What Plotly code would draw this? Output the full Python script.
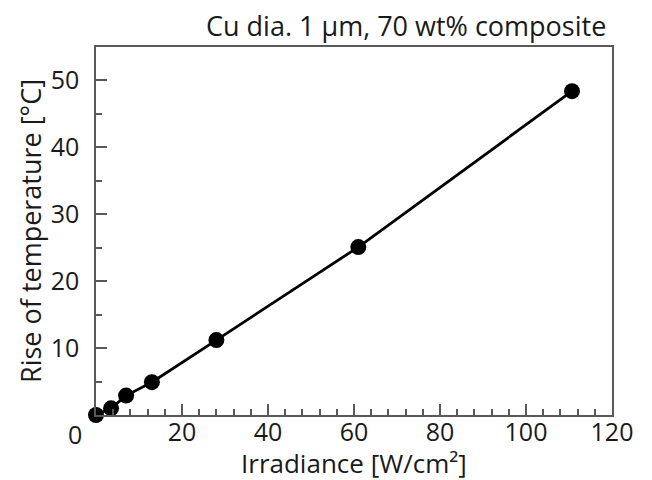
import plotly.graph_objects as go

irradiance = [0, 3.5, 7.0, 13.0, 28.0, 61.0, 110.7]
temp_rise = [0, 1.0, 2.9, 4.9, 11.2, 25.1, 48.4]
x_ticks = [0, 20, 40, 60, 80, 100, 120]
y_ticks = [10, 20, 30, 40, 50]

FONT = "'Open Sans', sans-serif"
AXC = "#595959"
FS = 25      # tick labels
FT = 27      # titles

fig = go.Figure()
fig.add_trace(go.Scatter(
    x=irradiance, y=temp_rise, mode="lines+markers",
    line=dict(color="black", width=2.8),
    marker=dict(color="black", size=16),
    showlegend=False, cliponaxis=False,
))

fig.update_layout(
    width=652, height=480,
    margin=dict(l=96, r=40, t=47, b=65, autoexpand=False),
    paper_bgcolor="white", plot_bgcolor="white",
    font=dict(family=FONT, size=FS, color="#1a1a1a"),
    xaxis=dict(
        range=[0, 120], tickvals=x_ticks,
        ticktext=["" if v == 0 else str(v) for v in x_ticks],
        ticks="inside", ticklen=11, tickwidth=1.5, tickcolor=AXC,
        minor=dict(dtick=4, ticks="inside", ticklen=6, tickwidth=1.5, tickcolor=AXC),
        showline=True, linecolor=AXC, linewidth=1.5, mirror=True,
        showgrid=False, zeroline=False, automargin=False,
        tickfont=dict(size=FS), ticklabelstandoff=-6,
    ),
    yaxis=dict(
        range=[0, 55], tickvals=y_ticks,
        ticks="inside", ticklen=11, tickwidth=1.5, tickcolor=AXC,
        minor=dict(dtick=5, ticks="inside", ticklen=6, tickwidth=1.5, tickcolor=AXC),
        showline=True, linecolor=AXC, linewidth=1.5, mirror=True,
        showgrid=False, zeroline=False, automargin=False,
        tickfont=dict(size=FS), ticklabelstandoff=10,
    ),
    annotations=[
        dict(text="Cu dia. 1 μm, 70 wt% composite", xref="paper", yref="paper",
             x=1.0, y=1.0, xanchor="right", yanchor="bottom", yshift=1, xshift=-4,
             showarrow=False, font=dict(size=FT)),
        dict(text="0", xref="x", yref="y", x=0, y=0, xanchor="right", yanchor="top",
             xshift=-12, yshift=0, showarrow=False, font=dict(size=FS)),
        dict(text="Irradiance [W/cm²]", xref="paper", yref="paper",
             x=0.5, y=0, xanchor="center", yanchor="middle", yshift=-48,
             showarrow=False, font=dict(size=26)),
        dict(text="Rise of temperature [°C]", xref="paper", yref="paper",
             x=0, y=0.5, xanchor="center", yanchor="middle", xshift=-66, textangle=-90,
             showarrow=False, font=dict(size=FT)),
    ],
)

fig.write_html("out.html", config={"displayModeBar": False},
               post_script="document.body.style.margin='0';")
